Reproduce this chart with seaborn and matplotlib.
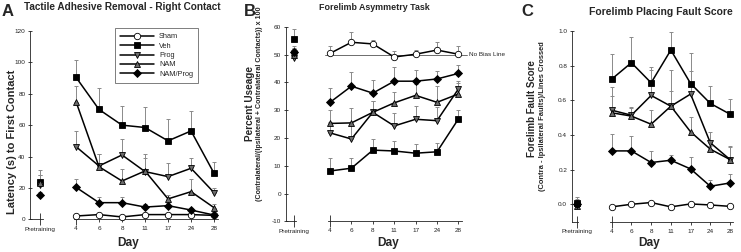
import numpy as np
import pandas as pd
import seaborn as sns
import matplotlib
matplotlib.use('Agg')
import matplotlib.pyplot as plt
from matplotlib.lines import Line2D

# datos
groups = ['Sham', 'Veh', 'Prog', 'NAM', 'NAM/Prog']
days = [4, 6, 8, 11, 17, 24, 28]

# A - Tactile adhesive removal (latencia en s)
tactile_mean = {
    'Sham': [2.1, 3.0, 1.5, 3.0, 3.0, 3.0, 2.5],
    'Veh': [90.5, 70.0, 60.0, 58.5, 50.0, 56.3, 29.3],
    'Prog': [46.3, 34.0, 41.0, 30.4, 27.2, 32.5, 17.0],
    'NAM': [75.0, 33.5, 24.4, 30.8, 13.0, 17.6, 7.4],
    'NAM/Prog': [20.4, 10.6, 10.6, 7.8, 8.7, 5.9, 2.7],
}
tactile_sem = {
    'Sham': [0.5, 0.8, 0.5, 0.6, 0.5, 0.5, 0.5],
    'Veh': [11.0, 13.5, 12.4, 12.9, 13.7, 12.9, 7.4],
    'Prog': [10.2, 7.6, 10.0, 11.2, 8.5, 6.8, 2.8],
    'NAM': [10.0, 8.0, 7.4, 8.0, 2.5, 8.1, 2.4],
    'NAM/Prog': [5.6, 3.8, 3.8, 2.0, 2.0, 1.5, 0.8],
}
tactile_pre = {'Sham': np.nan, 'Veh': 24.0, 'Prog': 22.0, 'NAM': 23.0, 'NAM/Prog': 15.3}
tactile_pre_sem = {'Sham': 0.0, 'Veh': 7.5, 'Prog': 6.0, 'NAM': 5.0, 'NAM/Prog': 2.0}

# B - Forelimb asymmetry (% uso)
asym_mean = {
    'Sham': [50.4, 54.4, 53.8, 49.1, 50.1, 51.6, 50.1],
    'Veh': [8.1, 9.1, 15.6, 15.3, 14.5, 15.0, 26.8],
    'Prog': [21.8, 19.6, 29.2, 24.3, 26.7, 26.2, 37.6],
    'NAM': [25.2, 25.4, 29.2, 32.6, 35.3, 32.8, 35.8],
    'NAM/Prog': [32.8, 38.6, 36.1, 40.4, 40.4, 41.2, 43.2],
}
asym_sem = {
    'Sham': [2.8, 3.6, 1.4, 2.2, 1.5, 2.8, 2.9],
    'Veh': [4.8, 3.8, 3.9, 3.6, 3.2, 3.0, 3.2],
    'Prog': [4.0, 5.0, 4.0, 4.5, 4.8, 5.0, 3.0],
    'NAM': [4.7, 5.4, 4.0, 3.8, 4.0, 5.9, 4.0],
    'NAM/Prog': [5.2, 5.0, 4.6, 5.1, 4.0, 2.8, 3.0],
}
asym_pre = {'Sham': 51.0, 'Veh': 55.5, 'Prog': 48.6, 'NAM': 50.0, 'NAM/Prog': 51.0}
asym_pre_sem = {'Sham': 1.5, 'Veh': 3.5, 'Prog': 2.0, 'NAM': 2.0, 'NAM/Prog': 2.0}
no_bias = 50

# C - Forelimb placing fault score
fault_mean = {
    'Sham': [-0.015, 0.0, 0.01, -0.015, 0.002, -0.004, -0.012],
    'Veh': [0.722, 0.817, 0.701, 0.89, 0.697, 0.582, 0.52],
    'Prog': [0.543, 0.514, 0.628, 0.566, 0.636, 0.355, 0.258],
    'NAM': [0.528, 0.509, 0.462, 0.566, 0.418, 0.318, 0.258],
    'NAM/Prog': [0.308, 0.308, 0.241, 0.254, 0.204, 0.104, 0.123],
}
fault_sem = {
    'Sham': [0.005, 0.005, 0.005, 0.005, 0.005, 0.02, 0.005],
    'Veh': [0.145, 0.146, 0.093, 0.102, 0.177, 0.10, 0.085],
    'Prog': [0.08, 0.043, 0.147, 0.085, 0.135, 0.06, 0.077],
    'NAM': [0.15, 0.05, 0.08, 0.21, 0.087, 0.02, 0.075],
    'NAM/Prog': [0.10, 0.087, 0.067, 0.029, 0.07, 0.035, 0.054],
}
fault_pre = {'Sham': 0.0, 'Veh': 0.01, 'Prog': -0.005, 'NAM': -0.01, 'NAM/Prog': 0.0}
fault_pre_sem = {'Sham': 0.02, 'Veh': 0.03, 'Prog': 0.03, 'NAM': 0.03, 'NAM/Prog': 0.03}

styles = {
    'Sham': dict(marker='o', mfc='white', ms=4.6),
    'Veh': dict(marker='s', mfc='black', ms=4.4),
    'Prog': dict(marker='v', mfc='#6b6b6b', ms=5.0),
    'NAM': dict(marker='^', mfc='#6b6b6b', ms=5.0),
    'NAM/Prog': dict(marker='D', mfc='black', ms=4.0),
}

sns.set_style('ticks')
plt.rcParams['font.family'] = ['Liberation Sans', 'DejaVu Sans']

W, H = 741, 252
fig = plt.figure(figsize=(W / 100, H / 100), dpi=100)


def box(left, right, top, bottom):
    return [left / W, 1 - bottom / H, (right - left) / W, (bottom - top) / H]


def panel(pre_box, main_box, means, sems, pre, pre_sem, ylim, yticks, yfmt):
    ax_pre = fig.add_axes(pre_box)
    ax = fig.add_axes(main_box, sharey=ax_pre)
    x = np.arange(len(days))
    for z, g in enumerate(groups):
        st = styles[g]
        ax.errorbar(x, means[g], yerr=[np.zeros(len(x)), sems[g]], fmt='none',
                    ecolor='#8a8a8a', elinewidth=0.7, capsize=1.5, capthick=0.7,
                    zorder=1, clip_on=False)
        sns.lineplot(x=x, y=means[g], ax=ax, color='black', linewidth=1.1,
                     marker=st['marker'], markerfacecolor=st['mfc'],
                     markeredgecolor='black', markeredgewidth=0.6,
                     markersize=st['ms'], zorder=3 + z, clip_on=False)
        if not np.isnan(pre[g]):
            ax_pre.errorbar([0], [pre[g]], yerr=[[0], [pre_sem[g]]], fmt='none',
                            ecolor='#8a8a8a', elinewidth=0.7, capsize=1.5,
                            capthick=0.7, zorder=1, clip_on=False)
            ax_pre.plot([0], [pre[g]], linestyle='none', marker=st['marker'],
                        markerfacecolor=st['mfc'], markeredgecolor='black',
                        markeredgewidth=0.6, markersize=st['ms'], zorder=3 + z,
                        clip_on=False)
    ax_pre.set_xlim(-1, 0.25)
    ax_pre.set_ylim(*ylim)
    ax_pre.set_yticks(yticks)
    ax_pre.set_yticklabels([yfmt.format(v) for v in yticks])
    ax_pre.set_xticks([0])
    ax_pre.set_xticklabels(['Pretraining'])
    ax_pre.tick_params(axis='y', direction='inout', length=3.5, width=0.6,
                       labelsize=4.6, pad=1.5, colors='#222222')
    ax_pre.tick_params(axis='x', direction='inout', length=9, width=0.6,
                       labelsize=4.6, pad=1, colors='#222222')
    for s in ['top', 'right']:
        ax_pre.spines[s].set_visible(False)
    for s in ['left', 'bottom']:
        ax_pre.spines[s].set_linewidth(0.6)
        ax_pre.spines[s].set_color('#222222')

    ax.set_xlim(-0.1, len(days) - 0.85)
    ax.set_xticks(x)
    ax.set_xticklabels([str(d) for d in days])
    ax.tick_params(axis='x', direction='out', length=2.5, width=0.6,
                   labelsize=4.6, pad=2.5, colors='#222222')
    ax.tick_params(axis='y', left=False, labelleft=False)
    for s in ['top', 'right', 'left']:
        ax.spines[s].set_visible(False)
    ax.spines['bottom'].set_linewidth(0.6)
    ax.spines['bottom'].set_color('#222222')
    first = ax.xaxis.get_major_ticks()[0]
    first.tick1line.set_marker('|')
    first.tick1line.set_markersize(9)
    ax.set_xlabel('')
    ax.set_ylabel('')
    ax_pre.set_xlabel('')
    ax_pre.set_ylabel('')
    return ax_pre, ax


# Panel A
preA, axA = panel(box(30, 42.5, 31, 219.3), box(73.7, 217.5, 31, 219.3),
                  tactile_mean, tactile_sem, tactile_pre, tactile_pre_sem,
                  (0, 120), [0, 20, 40, 60, 80, 100, 120], '{:d}')
# Panel B
preB, axB = panel(box(285.7, 296.4, 26.7, 221.3), box(327.9, 461.6, 26.7, 221.3),
                  asym_mean, asym_sem, asym_pre, asym_pre_sem,
                  (-10, 60), [-10, 0, 10, 20, 30, 40, 50, 60], '{:d}')
axB.plot([-0.25, 6.42], [no_bias, no_bias], color='#555555', linewidth=0.6,
         zorder=2, clip_on=False)
axB.text(6.5, no_bias, 'No Bias Line', fontsize=4.6, va='center', ha='left',
         color='#222222', clip_on=False)
# Panel C
preC, axC = panel(box(571.7, 577.95, 31, 221.6), box(609.7, 733, 31, 221.6),
                  fault_mean, fault_sem, fault_pre, fault_pre_sem,
                  (-0.1, 1.0), [0.0, 0.2, 0.4, 0.6, 0.8, 1.0], '{:.1f}')

# leyenda
handles = [Line2D([], [], color='black', linewidth=1.1, marker=styles[g]['marker'],
                  markerfacecolor=styles[g]['mfc'], markeredgecolor='black',
                  markeredgewidth=0.6, markersize=styles[g]['ms']) for g in groups]
leg = axA.legend(handles, groups, loc='center', bbox_to_anchor=(156.5 / W, 1 - 55.5 / H),
                 bbox_transform=fig.transFigure, frameon=True, fancybox=False,
                 fontsize=5.3, handlelength=4.6, labelspacing=0.3, borderpad=0.7,
                 handletextpad=0.7, borderaxespad=0)
leg.get_frame().set_edgecolor('#444444')
leg.get_frame().set_linewidth(0.6)


def ftext(x, y, s, **kw):
    fig.text(x / W, 1 - y / H, s, **kw)


# letras y titulos
ftext(2, 11, 'A', fontsize=12, fontweight='bold', va='center', ha='left')
ftext(244, 11, 'B', fontsize=12, fontweight='bold', va='center', ha='left')
ftext(521, 11, 'C', fontsize=12, fontweight='bold', va='center', ha='left')
ftext(122.5, 7.5, 'Tactile Adhesive Removal - Right Contact', fontsize=7.2,
      fontweight='bold', va='center', ha='center')
ftext(374.5, 8, 'Forelimb Asymmetry Task', fontsize=6.4, fontweight='bold',
      va='center', ha='center')
ftext(661, 12, 'Forelimb Placing Fault Score', fontsize=7.5, fontweight='bold',
      va='center', ha='center')

# etiquetas de ejes
ftext(12.5, 142, 'Latency (s) to First Contact', fontsize=8, fontweight='bold',
      rotation=90, va='center', ha='center')
ftext(250, 103.5, 'Percent Useage', fontsize=7.2, fontweight='bold',
      rotation=90, va='center', ha='center')
ftext(259.5, 103.5, '(Contralateral/(Ipsilateral + Contralateral Contacts)) x 100',
      fontsize=5.1, fontweight='bold', rotation=90, va='center', ha='center')
ftext(532, 109, 'Forelimb Fault Score', fontsize=7.0, fontweight='bold',
      rotation=90, va='center', ha='center')
ftext(542.5, 116, '(Contra - Ipsilateral Faults)/Lines Crossed', fontsize=5.4,
      fontweight='bold', rotation=90, va='center', ha='center')
for xc, yc in [(128, 243), (388, 243), (649, 243)]:
    ftext(xc, yc, 'Day', fontsize=8.6, fontweight='bold', va='center', ha='center')

fig.savefig('out.png', dpi=100)
